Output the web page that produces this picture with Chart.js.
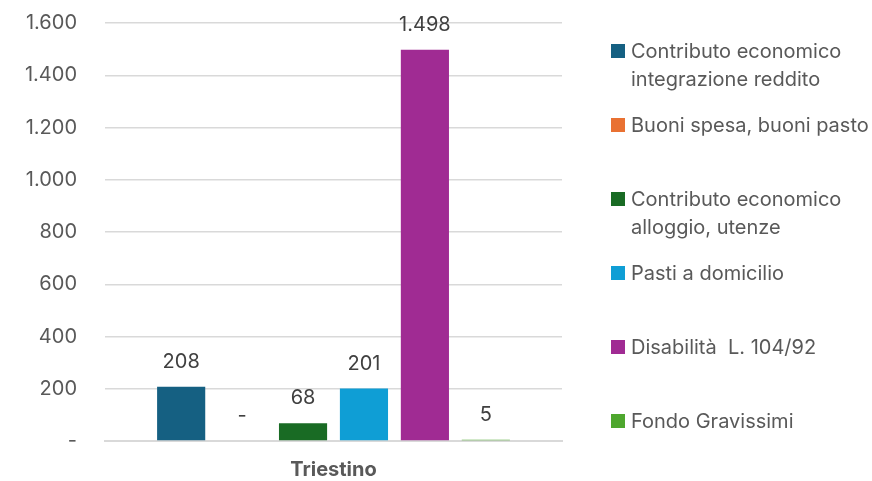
<!DOCTYPE html>
<html>
<head>
<meta charset="utf-8">
<script src="https://cdn.jsdelivr.net/npm/chart.js@4/dist/chart.umd.min.js"></script>
<style>
  html, body { margin:0; padding:0; background:#fff; }
  #wrap { position:relative; width:872px; height:481px; }
  #chart { position:absolute; left:0; top:0; }
  #legend { position:absolute; left:0; top:0; font-family:Inter, "Open Sans", sans-serif; font-size:20px; color:#595959; }
  .item { position:absolute; left:611px; line-height:28px; }
  .sw { position:absolute; left:0; top:7px; width:14px; height:14px; }
  .txt { position:absolute; left:20px; top:0; white-space:pre; }
</style>
</head>
<body>
<div id="wrap">
  <canvas id="chart" width="872" height="481"></canvas>
  <div id="legend"></div>
</div>
<script>
// Data
const categories = ['Triestino'];
const seriesLabels = [
  ['Contributo economico', 'integrazione reddito'],
  ['Buoni spesa, buoni pasto'],
  ['Contributo economico', 'alloggio, utenze'],
  ['Pasti a domicilio'],
  ['Disabilità  L. 104/92'],
  ['Fondo Gravissimi']
];
const seriesValues = [208, 0, 68, 201, 1498, 5];
const seriesColors = ['#156082', '#E97132', '#196B24', '#0F9ED5', '#A02B93', '#4EA72E'];
const yTicks = [0, 200, 400, 600, 800, 1000, 1200, 1400, 1600];

// italian number format, zero as dash
function fmt(v) {
  if (v === 0) return '-';
  return String(v).replace(/\B(?=(\d{3})+(?!\d))/g, '.');
}

const FONT = 'Inter, "Open Sans", sans-serif';

// value labels above bars
const valueLabels = {
  id: 'valueLabels',
  afterDatasetsDraw(chart) {
    const ctx = chart.ctx;
    ctx.save();
    ctx.font = '20px ' + FONT;
    ctx.fillStyle = '#404040';
    ctx.textAlign = 'center';
    ctx.textBaseline = 'middle';
    chart.data.datasets.forEach((ds, i) => {
      chart.getDatasetMeta(i).data.forEach((bar, j) => {
        ctx.fillText(fmt(ds.data[j]), bar.x, bar.y - 25);
      });
    });
    ctx.restore();
  }
};

const datasets = seriesValues.map((v, i) => ({
  label: seriesLabels[i].join(' '),
  data: [v],
  backgroundColor: seriesColors[i],
  categoryPercentage: 0.8,
  barPercentage: 0.79
}));

new Chart(document.getElementById('chart'), {
  type: 'bar',
  data: { labels: categories, datasets },
  options: {
    responsive: false,
    animation: false,
    layout: { padding: { top: 23, right: 310, left: 0, bottom: 0 } },
    plugins: { legend: { display: false }, tooltip: { enabled: false } },
    scales: {
      x: {
        grid: { display: false, drawTicks: false },
        border: { color: '#d9d9d9', width: 2 },
        ticks: { font: { family: FONT, size: 20, weight: 'bold' }, color: '#595959', padding: 17 },
        afterFit(s) { s.height = 40; }
      },
      y: {
        min: 0, max: 1600,
        afterBuildTicks(s) { s.ticks = yTicks.map(v => ({ value: v })); },
        grid: { color: '#d9d9d9', lineWidth: 1.5, drawTicks: false },
        border: { display: false },
        ticks: { font: { family: FONT, size: 20 }, color: '#595959', padding: 28, callback: v => fmt(v) },
        afterFit(s) { s.width = 105; s.paddingTop = 0; s.paddingBottom = 0; }
      }
    }
  },
  plugins: [valueLabels]
});

// legend (html), one slot per series
const legendEl = document.getElementById('legend');
seriesLabels.forEach((lines, i) => {
  const item = document.createElement('div');
  item.className = 'item';
  item.style.top = (37 + 74 * i) + 'px';
  item.innerHTML = '<div class="sw" style="background:' + seriesColors[i] + '"></div>' +
    '<div class="txt">' + lines.join('\n') + '</div>';
  legendEl.appendChild(item);
});
</script>
</body>
</html>
